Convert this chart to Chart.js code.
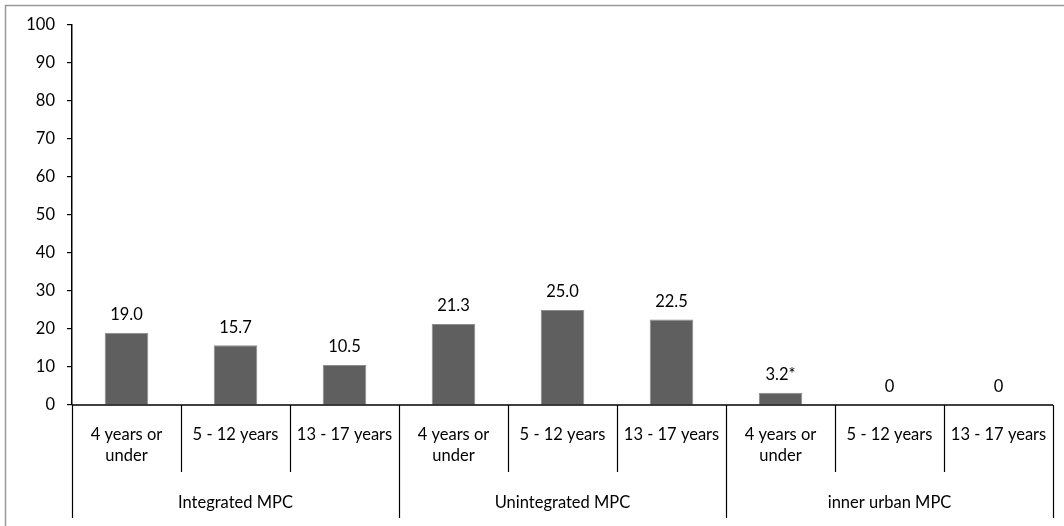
<!DOCTYPE html>
<html lang="en">
<head>
  <meta charset="UTF-8" />
  <title>MPC age groups</title>
  <script src="https://cdn.jsdelivr.net/npm/chart.js"></script>
  <style>
    body { margin: 0; background: #fff; }
    #wrap { width: 1064px; height: 526px; position: relative; }
  </style>
</head>
<body>
  <div id="wrap"><canvas id="chart"></canvas></div>

  <script>
    const groups = ["Integrated MPC", "Unintegrated MPC", "inner urban MPC"];
    const ageGroups = [["4 years or", "under"], ["5 - 12 years"], ["13 - 17 years"]];
    const values = [19.0, 15.7, 10.5, 21.3, 25.0, 22.5, 3.2, 0, 0];
    const valueLabels = ["19.0", "15.7", "10.5", "21.3", "25.0", "22.5", "3.2*", "0", "0"];

    const FONT = "Lato, 'Liberation Sans', sans-serif";
    const FONT_SIZE = 16.5;
    const categories = [];
    groups.forEach(g => ageGroups.forEach(a => categories.push(a.join(" "))));

    // draws bar values, the two-level x axis and the outer frame
    const extras = {
      id: "extras",
      afterDraw(chart) {
        const { ctx, chartArea } = chart;
        const x = chart.scales.x;
        const meta = chart.getDatasetMeta(0);
        const bottom = chartArea.bottom;
        ctx.save();

        // frame
        ctx.strokeStyle = "#9a9a9a";
        ctx.lineWidth = 1.5;
        ctx.strokeRect(5.5, 5.5, 1100, 600);

        // value labels
        ctx.fillStyle = "#000";
        ctx.font = FONT_SIZE + "px " + FONT;
        ctx.textAlign = "center";
        ctx.textBaseline = "middle";
        meta.data.forEach((bar, i) => {
          ctx.fillText(valueLabels[i], bar.x, bar.y - 18);
        });

        // axis line
        ctx.strokeStyle = "#000";
        ctx.lineWidth = 1.5;
        ctx.beginPath();
        ctx.moveTo(chartArea.left, bottom);
        ctx.lineTo(chartArea.right, bottom);
        ctx.stroke();

        const n = categories.length;
        const edge = i => {
          if (i === 0) return x.left;
          if (i === n) return x.right;
          return (x.getPixelForValue(i - 1) + x.getPixelForValue(i)) / 2;
        };

        ctx.lineWidth = 1.2;
        for (let i = 0; i <= n; i++) {
          const px = Math.round(edge(i)) + 0.5;
          const long = i % ageGroups.length === 0;
          ctx.beginPath();
          ctx.moveTo(px, bottom);
          ctx.lineTo(px, long ? 518 : 472);
          ctx.stroke();
        }

        // age labels
        for (let i = 0; i < n; i++) {
          const cx = x.getPixelForValue(i);
          const lines = ageGroups[i % ageGroups.length];
          lines.forEach((t, k) => ctx.fillText(t, cx, 435 + k * 21));
        }

        // group labels
        groups.forEach((g, gi) => {
          const cx = (edge(gi * 3) + edge(gi * 3 + 3)) / 2;
          ctx.fillText(g, cx, 503);
        });

        ctx.restore();
      }
    };

    new Chart(document.getElementById("chart"), {
      type: "bar",
      data: {
        labels: categories,
        datasets: [{
          data: values,
          backgroundColor: "#5f5f5f",
          borderColor: "#8c8c8c",
          borderWidth: 1,
          barPercentage: 0.4,
          categoryPercentage: 1.0
        }]
      },
      options: {
        responsive: true,
        maintainAspectRatio: false,
        animation: false,
        layout: { padding: { top: 25, right: 11, bottom: 121, left: 0 } },
        plugins: {
          legend: { display: false },
          tooltip: { enabled: false }
        },
        scales: {
          x: { display: false, offset: true },
          y: {
            min: 0,
            max: 100,
            afterFit(scale) { scale.width = 72; },
            ticks: {
              stepSize: 10,
              color: "#000",
              padding: 12,
              font: { family: FONT, size: FONT_SIZE }
            },
            grid: {
              drawOnChartArea: false,
              drawTicks: true,
              tickLength: 5,
              color: "#000",
              lineWidth: 1.2
            },
            border: { color: "#000", width: 1.5 }
          }
        }
      },
      plugins: [extras]
    });
  </script>
</body>
</html>
